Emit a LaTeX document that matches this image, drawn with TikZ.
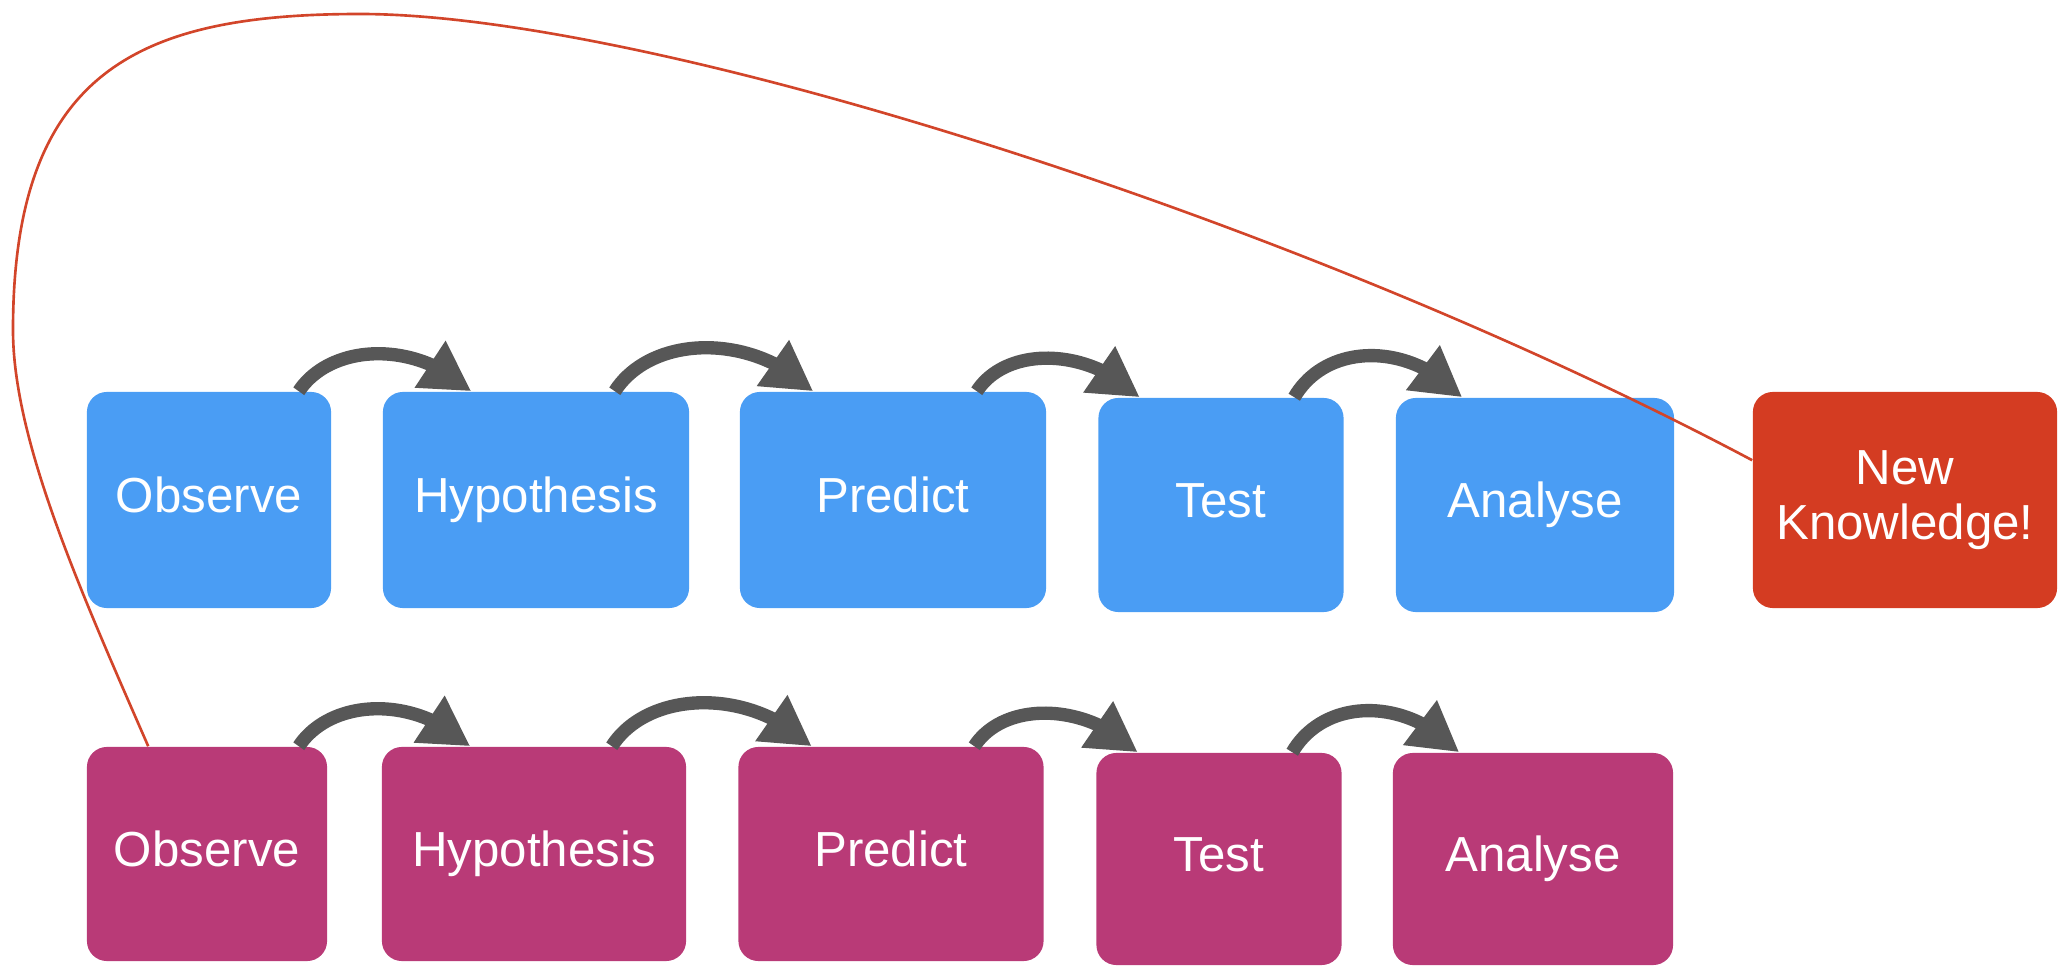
\documentclass[tikz,border=0pt]{standalone}
\usepackage{fontspec}
\setmainfont{Liberation Sans}
\usetikzlibrary{arrows.meta,bending,calc}
\definecolor{boxblue}{HTML}{4A9DF4}
\definecolor{boxmag}{HTML}{B93A77}
\definecolor{boxred}{HTML}{D43C22}
\definecolor{arrgray}{HTML}{575757}
\definecolor{loopred}{HTML}{D2452A}
\tikzset{
  stepbox/.style={rounded corners=0.2cm, inner sep=0pt, align=center,
    text=white, font=\fontsize{14}{15.5}\selectfont},
  oneline/.style={text height=10pt, text depth=3pt},
  bluebox/.style={stepbox, oneline, fill=boxblue},
  magbox/.style={stepbox, oneline, fill=boxmag},
  redbox/.style={stepbox, fill=boxred},
  flow/.style={draw=arrgray, line width=3.8pt,
    -{Triangle[length=14pt,width=15pt,flex]}},
  loop/.style={draw=loopred, line width=0.75pt}
}
\begin{document}
\begin{tikzpicture}[x=0.01cm,y=-0.01cm]
\useasboundingbox (0,0) rectangle (2065,973);
% top row
\node[bluebox, minimum width=2.44cm, minimum height=2.16cm] (o1) at (209,500) {Observe};
\node[bluebox, minimum width=3.06cm, minimum height=2.16cm] (h1) at (536,500) {Hypothesis};
\node[bluebox, minimum width=3.06cm, minimum height=2.16cm] (p1) at (893,500) {Predict};
\node[bluebox, minimum width=2.45cm, minimum height=2.14cm] (t1) at (1221,505) {Test};
\node[bluebox, minimum width=2.78cm, minimum height=2.14cm] (a1) at (1535,505) {Analyse};
\node[redbox, minimum width=3.04cm, minimum height=2.16cm] (nk) at (1905,500) {New\\Knowledge!};
% bottom row
\node[magbox, minimum width=2.40cm, minimum height=2.14cm] (o2) at (207,854) {Observe};
\node[magbox, minimum width=3.04cm, minimum height=2.14cm] (h2) at (534,854) {Hypothesis};
\node[magbox, minimum width=3.05cm, minimum height=2.14cm] (p2) at (891,854) {Predict};
\node[magbox, minimum width=2.45cm, minimum height=2.12cm] (t2) at (1219,859) {Test};
\node[magbox, minimum width=2.80cm, minimum height=2.12cm] (a2) at (1533,859) {Analyse};
% top arrows
\draw[flow] ($(o1.north east)+(-33,0)$) .. controls +(32,-48) and +(-55,-52) .. ($(h1.north west)+(89,0)$);
\draw[flow] ($(h1.north east)+(-75,0)$) .. controls +(36,-56) and +(-62,-60) .. ($(p1.north west)+(74,0)$);
\draw[flow] ($(p1.north east)+(-70,0)$) .. controls +(30,-46) and +(-50,-50) .. ($(t1.north west)+(42,0)$);
\draw[flow] ($(t1.north east)+(-50,0)$) .. controls +(32,-55) and +(-52,-56) .. ($(a1.north west)+(67,0)$);
% bottom arrows
\draw[flow] ($(o2.north east)+(-29,0)$) .. controls +(32,-48) and +(-55,-52) .. ($(h2.north west)+(89,0)$);
\draw[flow] ($(h2.north east)+(-75,0)$) .. controls +(36,-56) and +(-62,-60) .. ($(p2.north west)+(74,0)$);
\draw[flow] ($(p2.north east)+(-70,0)$) .. controls +(30,-46) and +(-50,-50) .. ($(t2.north west)+(42,0)$);
\draw[flow] ($(t2.north east)+(-50,0)$) .. controls +(32,-55) and +(-52,-56) .. ($(a2.north west)+(67,0)$);
% feedback loop
\coordinate (lstart) at ($(o2.north west)+(62,0)$);
\coordinate (lend) at ($(nk.north west)+(0,69)$);
\draw[loop] (lstart) .. controls (80,590) and (13,440) .. (13,330)
  .. controls (13,70) and (140,14) .. (360,14)
  .. controls (650,14) and (1300,220) .. (lend);
\end{tikzpicture}
\end{document}
